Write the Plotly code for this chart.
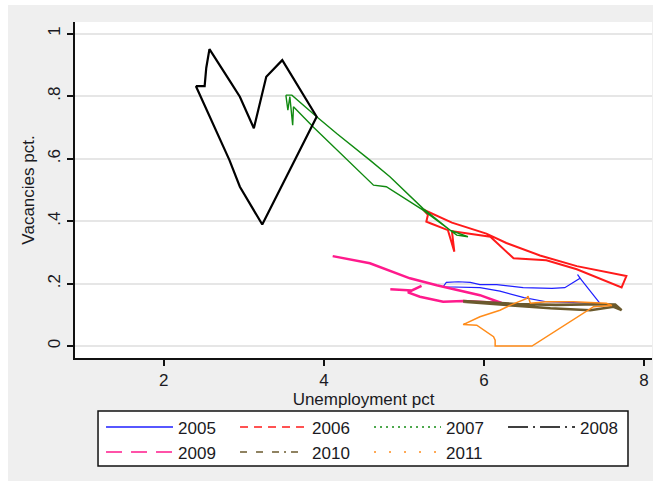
import plotly.graph_objects as go

# Beveridge curves: unemployment (x) vs vacancies (y), one path per year
years = ["2005", "2006", "2007", "2008", "2009", "2010", "2011"]

u2005 = [5.49, 5.53, 5.68, 5.83, 5.95, 6.16, 6.49, 6.85, 7.01, 7.20, 7.17, 7.22, 7.45, 7.08, 6.78, 6.50, 6.20, 5.95, 5.60, 5.49]
v2005 = [0.190, 0.204, 0.206, 0.204, 0.197, 0.197, 0.187, 0.185, 0.187, 0.217, 0.229, 0.211, 0.137, 0.140, 0.142, 0.155, 0.176, 0.187, 0.190, 0.190]

u2006 = [5.24, 5.60, 6.03, 6.28, 6.70, 7.16, 7.78, 7.72, 7.16, 6.78, 6.37, 6.08, 5.80, 5.60, 5.63, 5.55, 5.33, 5.28, 5.30, 5.24]
v2006 = [0.437, 0.395, 0.360, 0.330, 0.290, 0.256, 0.224, 0.188, 0.246, 0.275, 0.281, 0.350, 0.360, 0.368, 0.302, 0.371, 0.393, 0.398, 0.420, 0.437]

u2007 = [3.525, 3.60, 3.91, 4.16, 4.575, 4.825, 5.24, 5.575, 5.80, 5.66, 5.24, 4.78, 4.62, 4.20, 3.87, 3.62, 3.61, 3.575, 3.55, 3.525]
v2007 = [0.803, 0.803, 0.734, 0.680, 0.595, 0.542, 0.440, 0.371, 0.350, 0.355, 0.435, 0.510, 0.515, 0.617, 0.700, 0.766, 0.707, 0.798, 0.755, 0.803]

u2008 = [2.40, 2.51, 2.53, 2.57, 2.83, 2.95, 3.125, 3.20, 3.28, 3.48, 3.91, 3.23, 2.95, 2.82, 2.40]
v2008 = [0.832, 0.832, 0.890, 0.950, 0.846, 0.798, 0.697, 0.782, 0.862, 0.915, 0.734, 0.389, 0.510, 0.595, 0.832]

u2009 = [4.11, 4.575, 5.075, 5.41, 5.95, 6.22, 5.74, 5.49, 5.20, 5.05, 5.22, 5.10, 4.83]
v2009 = [0.288, 0.265, 0.217, 0.195, 0.163, 0.138, 0.144, 0.142, 0.158, 0.172, 0.193, 0.178, 0.182]

u2010 = [5.74, 6.00, 6.37, 6.83, 7.33, 7.62, 7.72, 7.64, 7.45, 6.90, 6.40, 6.00, 5.74]
v2010 = [0.142, 0.137, 0.131, 0.121, 0.115, 0.126, 0.115, 0.133, 0.134, 0.132, 0.135, 0.140, 0.144]

u2011 = [6.55, 6.58, 6.78, 7.12, 7.53, 7.60, 7.37, 6.60, 6.14, 6.14, 6.12, 5.91, 5.74, 5.95, 6.20, 6.33, 6.53, 6.55]
v2011 = [0.160, 0.137, 0.142, 0.142, 0.137, 0.130, 0.126, 0.000, 0.000, 0.019, 0.030, 0.067, 0.069, 0.094, 0.115, 0.131, 0.152, 0.160]

x_ticks = [2, 4, 6, 8]
y_ticks = [0, 0.2, 0.4, 0.6, 0.8, 1.0]
y_tick_text = ["0", ".2", ".4", ".6", ".8", "1"]

u_series = [u2005, u2006, u2007, u2008, u2009, u2010, u2011]
v_series = [v2005, v2006, v2007, v2008, v2009, v2010, v2011]
colors = ["#1f1fff", "#ff1a1a", "#108a10", "#000000", "#ff1a8c", "#6b5a2e", "#ff8c1a"]
widths = [1.2, 2.0, 1.4, 2.2, 2.5, 2.6, 1.5]
legend_dash = ["solid", "8px,6px", "2px,4px", "20px,5px,2px,5px",
               "16px,9px", "7px,9px,7px,9px,7px,5px,2px,5px", "2px,13px"]

FONT = "Liberation Sans, Arial, sans-serif"
TEXT = "#1a1a22"

fig = go.Figure()

# data paths (solid, dense monthly series)
for yr, u, v, c, w in zip(years, u_series, v_series, colors, widths):
    fig.add_trace(go.Scatter(
        x=u, y=v, mode="lines", name=yr, legendgroup=yr, showlegend=False,
        line=dict(color=c, width=w), hoverinfo="x+y+name",
    ))

# legend keys carrying each series' pattern
for yr, c, d in zip(years, colors, legend_dash):
    fig.add_trace(go.Scatter(
        x=[None], y=[None], mode="lines", name=yr, legendgroup=yr,
        line=dict(color=c, width=1.6, dash=d),
    ))

# white frame around the grey page background
frame = [
    dict(x0=-0.2, x1=-0.1161, y0=-0.5, y1=1.2),
    dict(x0=-0.2, x1=1.1, y0=1.0506, y1=1.2),
    dict(x0=1.0017, x1=1.1, y0=-0.5, y1=1.2),
    dict(x0=-0.2, x1=1.1, y0=-0.5, y1=-0.366),
]
for f in frame:
    fig.add_shape(type="rect", xref="paper", yref="paper", layer="below",
                  line=dict(width=0), fillcolor="white", **f)

# legend box
fig.add_shape(type="rect", xref="paper", yref="paper", layer="below",
              x0=0.0399, x1=0.9584, y0=-0.3214, y1=-0.1577,
              line=dict(color="#111111", width=1.5), fillcolor="white")

fig.update_layout(
    width=658, height=484,
    margin=dict(l=75, r=6, t=22, b=126),
    paper_bgcolor="#efefef",
    plot_bgcolor="white",
    font=dict(family=FONT, size=17, color=TEXT),
    showlegend=True,
    legend=dict(
        orientation="h", x=0.0451, xanchor="left", y=-0.153, yanchor="top",
        bgcolor="rgba(0,0,0,0)", borderwidth=0,
        itemwidth=67, entrywidth=52, entrywidthmode="pixels",
        font=dict(family=FONT, size=17, color=TEXT),
        traceorder="normal", itemclick=False, itemdoubleclick=False,
    ),
    xaxis=dict(
        range=[0.89, 8.1], tickvals=x_ticks, ticktext=[str(t) for t in x_ticks],
        showgrid=False, zeroline=False, showline=True, linecolor="#111111", linewidth=1.5,
        ticks="outside", ticklen=6, tickwidth=1.5, tickcolor="#111111",
        title=dict(text="Unemployment pct", standoff=2, font=dict(size=17)),
    ),
    yaxis=dict(
        range=[-0.038, 1.037], tickvals=y_ticks, ticktext=y_tick_text, tickangle=-90,
        showgrid=True, gridcolor="#e6e6e6", gridwidth=1.5,
        zeroline=False, showline=True, linecolor="#111111", linewidth=1.5,
        ticks="outside", ticklen=6, tickwidth=1.5, tickcolor="#111111",
        title=dict(text="Vacancies pct.", standoff=7, font=dict(size=17)),
    ),
)

fig.write_html("out.html")
